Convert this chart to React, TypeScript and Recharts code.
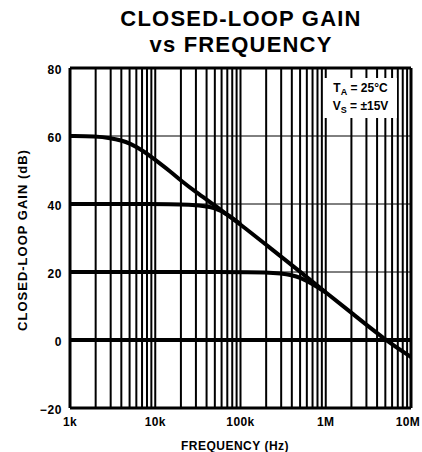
import React from "react";
import {
  LineChart,
  Line,
  XAxis,
  YAxis,
  CartesianGrid,
  ReferenceLine,
} from "recharts";

// frequency (Hz) / closed-loop gain (dB)
const curve60: [number, number][] = [
  [1e3, 60], [2e3, 59.9], [3e3, 59.4], [4e3, 58.7], [5e3, 57.9], [7e3, 55.9],
  [1e4, 53], [1.5e4, 49.6], [2e4, 46.9], [3e4, 43.5], [5e4, 39.6], [7e4, 36.8],
  [1e5, 34], [2e5, 28], [5e5, 20.1], [1e6, 14], [2e6, 8], [5e6, 0], [1e7, -5],
];
const curve40: [number, number][] = [
  [1e3, 40], [1e4, 40], [3e4, 39.8], [5e4, 39], [7e4, 37], [1e5, 34],
];
const curve20: [number, number][] = [
  [1e3, 20], [1e5, 20], [2e5, 19.9], [3e5, 19.6], [4e5, 19.1], [5e5, 18.4], [7e5, 16.5], [1e6, 14],
];
const curve0: [number, number][] = [
  [1e3, 0], [1e6, 0], [1e7, 0],
];

const xTicks = [1e3, 1e4, 1e5, 1e6, 1e7];
const xTickLabels = ["1k", "10k", "100k", "1M", "10M"];
const yTicks = [-20, 0, 20, 40, 60, 80];

// log grid: 1..9 in each decade, plus 10M
const decades = [1e3, 1e4, 1e5, 1e6];
const gridFreqs = decades
  .flatMap((d) => [1, 2, 3, 4, 5, 6, 7, 8, 9].map((m) => m * d))
  .concat([1e7]);

const toPoints = (c: [number, number][]) => c.map(([f, g]) => ({ f, g }));
const curves = [curve60, curve40, curve20, curve0].map(toPoints);

const FONT = '"Liberation Sans", Arial, sans-serif';

const fmtY = (v: number) => (v < 0 ? `\u2212${Math.abs(v)}` : `${v}`);

const XTick = (props: any) => {
  const { x, y, payload } = props;
  const i = xTicks.indexOf(payload.value);
  const last = i === xTicks.length - 1;
  return (
    <text
      x={last ? x - 3 : x}
      y={y + 18}
      textAnchor="middle"
      fill="#000"
      fontSize={12}
      fontWeight={700}
      fontFamily={FONT}
      letterSpacing={0.4}
    >
      {xTickLabels[i]}
    </text>
  );
};

export default function App() {
  const tickStyle = { fill: "#000", fontSize: 12, fontWeight: 700, fontFamily: FONT, letterSpacing: 0.6 };
  return (
    <div style={{ position: "absolute", left: 0, top: 0, width: 422, height: 452, background: "#fff", fontFamily: FONT }}>
      <LineChart width={422} height={452} margin={{ top: 68, right: 11, left: 0, bottom: 0 }}>
        <CartesianGrid vertical={false} stroke="#000" strokeWidth={1} />
        {gridFreqs.map((f) => (
          <ReferenceLine key={f} x={f} stroke="#000" strokeWidth={2} />
        ))}
        <ReferenceLine x={1e3} stroke="#000" strokeWidth={3} />
        <ReferenceLine x={1e7} stroke="#000" strokeWidth={3} />
        <ReferenceLine y={80} stroke="#000" strokeWidth={3} />
        <ReferenceLine y={-20} stroke="#000" strokeWidth={3} />
        <XAxis
          dataKey="f"
          type="number"
          scale="log"
          domain={[1e3, 1e7]}
          allowDataOverflow
          ticks={xTicks}
          axisLine={false}
          tickLine={false}
          tickSize={0}
          tickMargin={0}
          height={44}
          tick={<XTick />}
          interval={0}
        />
        <YAxis
          type="number"
          domain={[-20, 80]}
          ticks={yTicks}
          tickFormatter={fmtY}
          axisLine={false}
          tickLine={false}
          tickSize={0}
          tickMargin={8}
          width={70}
          tick={{ ...tickStyle, dy: 2 }}
          interval={0}
        />
        {curves.map((data, i) => (
          <Line
            key={i}
            data={data}
            dataKey="g"
            type="basis"
            stroke="#000"
            strokeWidth={4}
            dot={false}
            isAnimationActive={false}
          />
        ))}
      </LineChart>

      <div
        style={{
          position: "absolute",
          left: 241,
          top: 6,
          transform: "translateX(-50%)",
          whiteSpace: "nowrap",
          textAlign: "center",
          fontSize: 22,
          fontWeight: 700,
          lineHeight: "26px",
          letterSpacing: 1.2,
        }}
      >
        CLOSED-LOOP GAIN
        <br />
        vs FREQUENCY
      </div>

      <div
        style={{
          position: "absolute",
          left: 22,
          top: 240,
          transform: "translate(-50%, -50%) rotate(-90deg)",
          whiteSpace: "nowrap",
          fontSize: 13,
          fontWeight: 700,
          letterSpacing: 1,
          lineHeight: "15px",
        }}
      >
        CLOSED-LOOP GAIN (dB)
      </div>

      <div
        style={{
          position: "absolute",
          left: 235,
          top: 439,
          transform: "translateX(-50%)",
          whiteSpace: "nowrap",
          fontSize: 12,
          fontWeight: 700,
          letterSpacing: 0.5,
          lineHeight: "14px",
        }}
      >
        FREQUENCY (Hz)
      </div>

      <div
        style={{
          position: "absolute",
          left: 324,
          top: 78,
          width: 73,
          height: 40,
          background: "#fff",
          paddingTop: 2,
          boxSizing: "border-box",
          textAlign: "center",
          fontSize: 12,
          fontWeight: 700,
          lineHeight: "17px",
          whiteSpace: "nowrap",
        }}
      >
        <div>
          T<span style={{ fontSize: 9, position: "relative", top: 3 }}>A</span> = 25°C
        </div>
        <div>
          V<span style={{ fontSize: 9, position: "relative", top: 3 }}>S</span> = ±15V
        </div>
      </div>
    </div>
  );
}
